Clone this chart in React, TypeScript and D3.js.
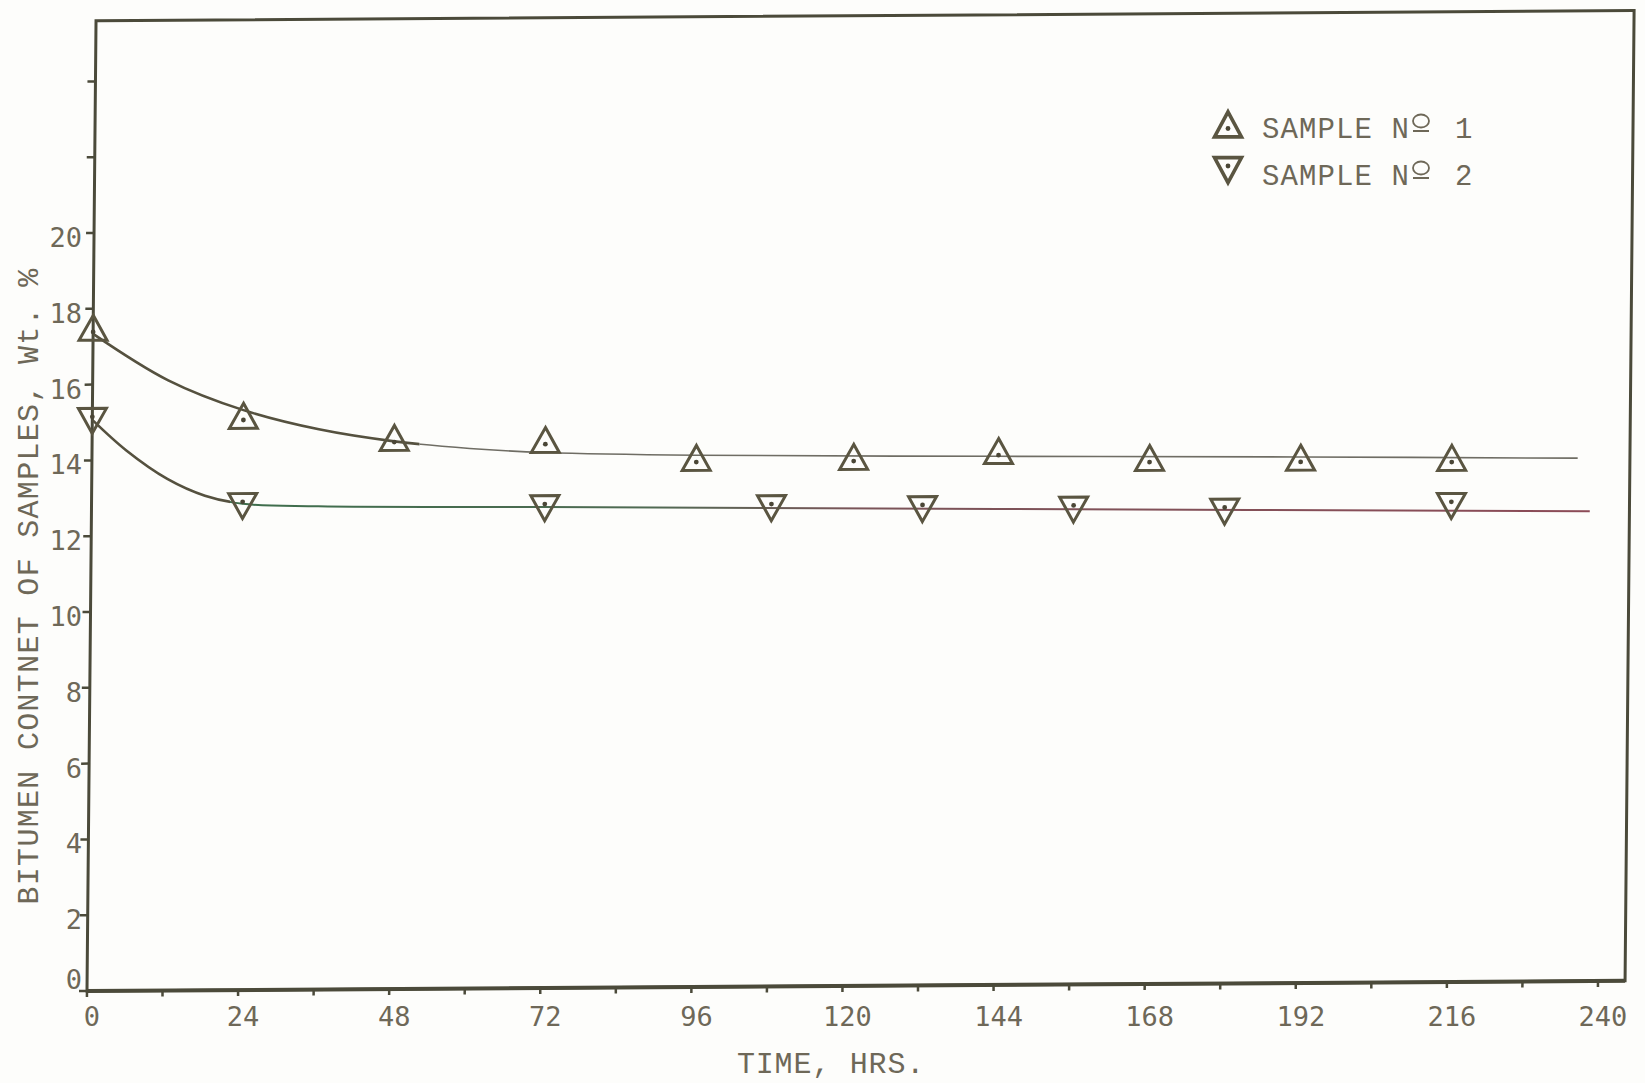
import React from 'react';
import * as d3 from 'd3';

// Canvas
const W = 1645;
const H = 1083;

// Axis ticks
const timeTicks = [0, 24, 48, 72, 96, 120, 144, 168, 192, 216, 240];
const timeMinorTicks = [12, 36, 60, 84, 108, 132, 156, 180, 204, 228];
const valueTicks = [0, 2, 4, 6, 8, 10, 12, 14, 16, 18, 20];
const valueUnlabeledTicks = [22, 24];

// Measured points (time in hours, bitumen content in wt.%)
const sample1Time = [0, 24, 48, 72, 96, 121, 144, 168, 192, 216];
const sample1Value = [17.39, 15.04, 14.43, 14.35, 13.85, 13.85, 13.98, 13.77, 13.75, 13.72];
const sample2Time = [0, 24, 72, 108, 132, 156, 180, 216];
const sample2Value = [15.15, 12.88, 12.77, 12.73, 12.68, 12.64, 12.56, 12.67];

// Hand-fitted curves through each sample
const curve1Time = [0, 12, 24, 36, 48, 60, 72, 96, 144, 192, 236];
const curve1Value = [17.34, 16.1, 15.3, 14.78, 14.45, 14.25, 14.13, 14.03, 13.95, 13.88, 13.8];
const curve2Time = [0, 5.5, 12, 18, 24, 36, 72, 144, 238];
const curve2Value = [15.07, 14.25, 13.5, 13.05, 12.83, 12.75, 12.69, 12.56, 12.4];

// Plot frame extent in data units
const FRAME_RIGHT = 244.3;
const FRAME_TOP = 25.6;

// Slight skew of the sheet
const SKEW_B = -0.0066;
const SKEW_C = -0.0093;

const INK = '#4b4a3a';
const TEXT = '#6e6858';
const MARK = '#5a5541';

const TRI_W = 28;
const TRI_H = 25;
const upTri = (w: number, h: number) =>
  `M0,${-(2 * h) / 3}L${w / 2},${h / 3}L${-w / 2},${h / 3}Z`;
const downTri = (w: number, h: number) =>
  `M0,${(2 * h) / 3}L${w / 2},${-h / 3}L${-w / 2},${-h / 3}Z`;

export default function App() {
  const x = d3.scaleLinear().domain([0, 240]).range([87, 1598]);
  const y = d3.scaleLinear().domain([0, 20]).range([991, 233]);

  const ox = x(0);
  const oy = y(0);
  const skew = `matrix(1, ${SKEW_B}, ${SKEW_C}, 1, ${-SKEW_C * oy}, ${-SKEW_B * ox})`;

  const line = d3
    .line<[number, number]>()
    .x((d) => x(d[0]))
    .y((d) => y(d[1]))
    .curve(d3.curveCatmullRom.alpha(0.5));

  const c1 = line(curve1Time.map((t, i) => [t, curve1Value[i]]) as [number, number][]) || '';
  const c2 = line(curve2Time.map((t, i) => [t, curve2Value[i]]) as [number, number][]) || '';

  const frame = `M${x(0)},${y(0)}L${x(FRAME_RIGHT)},${y(0)}L${x(FRAME_RIGHT)},${y(FRAME_TOP)}L${x(0)},${y(FRAME_TOP)}Z`;

  const tickFont = '"DejaVu Sans Mono", monospace';
  const typeFont = '"Liberation Mono", "Courier New", monospace';

  return (
    <svg
      width={W}
      height={H}
      viewBox={`0 0 ${W} ${H}`}
      style={{ position: 'absolute', left: 0, top: 0, background: '#fdfdfb' }}
    >
      <defs>
        <clipPath id="decay1">
          <rect x={0} y={0} width={x(52)} height={H} />
        </clipPath>
        <clipPath id="flat1">
          <rect x={x(52)} y={0} width={W} height={H} />
        </clipPath>
        <clipPath id="decay2">
          <rect x={0} y={0} width={x(22)} height={H} />
        </clipPath>
        <clipPath id="flat2">
          <rect x={x(22)} y={0} width={W} height={H} />
        </clipPath>
        <linearGradient id="pen2" gradientUnits="userSpaceOnUse" x1={x(24)} x2={x(240)} y1={0} y2={0}>
          <stop offset="0" stopColor="#3e6e4c" />
          <stop offset="0.3" stopColor="#4f6a52" />
          <stop offset="0.45" stopColor="#7a5458" />
          <stop offset="1" stopColor="#8c4b57" />
        </linearGradient>
      </defs>

      <rect x={0} y={0} width={W} height={H} fill="#fdfdfb" />

      <g transform={skew}>
        {/* frame */}
        <path d={frame} fill="none" stroke={INK} strokeWidth={3} />
        <line x1={x(0)} x2={x(FRAME_RIGHT)} y1={y(0)} y2={y(0)} stroke={INK} strokeWidth={4} />

        {/* time ticks */}
        {timeTicks.concat(timeMinorTicks).map((t) => (
          <line key={`xt${t}`} x1={x(t)} x2={x(t)} y1={y(0)} y2={y(0) + 6} stroke={INK} strokeWidth={2.5} />
        ))}

        {/* value ticks */}
        {valueTicks.concat(valueUnlabeledTicks).map((v) => (
          <line key={`yt${v}`} x1={x(0) - 8} x2={x(0)} y1={y(v)} y2={y(v)} stroke={INK} strokeWidth={2.5} />
        ))}

        {/* fitted curves */}
        <path d={c1} fill="none" stroke="#55513f" strokeWidth={2.6} clipPath="url(#decay1)" />
        <path d={c1} fill="none" stroke="#6f6d64" strokeWidth={1.6} clipPath="url(#flat1)" />
        <path d={c2} fill="none" stroke="#55513f" strokeWidth={2.6} clipPath="url(#decay2)" />
        <path d={c2} fill="none" stroke="url(#pen2)" strokeWidth={2} clipPath="url(#flat2)" />

        {/* sample 1 markers */}
        {sample1Time.map((t, i) => (
          <g key={`s1${t}`} transform={`translate(${x(t)},${y(sample1Value[i])})`}>
            <path d={upTri(TRI_W, TRI_H)} fill="none" stroke={MARK} strokeWidth={3} />
            <circle r={2.4} fill="#4a4636" />
          </g>
        ))}

        {/* sample 2 markers */}
        {sample2Time.map((t, i) => (
          <g key={`s2${t}`} transform={`translate(${x(t)},${y(sample2Value[i])})`}>
            <path d={downTri(TRI_W, TRI_H)} fill="none" stroke={MARK} strokeWidth={3} />
            <circle r={2.4} fill="#4a4636" />
          </g>
        ))}
      </g>

      {/* value tick labels */}
      {valueTicks.map((v) => (
        <text
          key={`yl${v}`}
          x={82}
          y={(v === 0 ? y(v) - 12 : y(v) + 4) + 10}
          textAnchor="end"
          fontFamily={tickFont}
          fontSize={27}
          fill={TEXT}
        >
          {v}
        </text>
      ))}

      {/* time tick labels */}
      {timeTicks.map((t) => (
        <text
          key={`xl${t}`}
          x={x(t) + 5}
          y={1026}
          textAnchor="middle"
          fontFamily={tickFont}
          fontSize={27}
          fill={TEXT}
        >
          {t}
        </text>
      ))}

      {/* axis titles */}
      <text
        x={831}
        y={1073}
        textAnchor="middle"
        fontFamily={typeFont}
        fontSize={30}
        letterSpacing={0.8}
        fill={TEXT}
      >
        TIME, HRS.
      </text>
      <text
        transform={`translate(38,586) rotate(-90)`}
        textAnchor="middle"
        fontFamily={typeFont}
        fontSize={30}
        letterSpacing={1.3}
        fill={TEXT}
      >
        BITUMEN CONTNET OF SAMPLES, Wt. %
      </text>

      {/* legend */}
      <g>
        <g transform="translate(1228,128.5)">
          <path d={upTri(27, 25)} fill="none" stroke={MARK} strokeWidth={3.6} />
          <circle r={2.4} fill="#4a4636" />
        </g>
        <text x={1262} y={138} fontFamily={typeFont} fontSize={29} letterSpacing={1.1} fill={TEXT}>
          SAMPLE N
        </text>
        <ellipse cx={1421} cy={121} rx={8} ry={6.5} fill="none" stroke={TEXT} strokeWidth={1.8} />
        <line x1={1413} x2={1429} y1={131} y2={131} stroke={TEXT} strokeWidth={2} />
        <text x={1455} y={138} fontFamily={typeFont} fontSize={29} fill={TEXT}>
          1
        </text>

        <g transform="translate(1228,166)">
          <path d={downTri(27, 25)} fill="none" stroke={MARK} strokeWidth={3.6} />
          <circle r={2.4} fill="#4a4636" />
        </g>
        <text x={1262} y={185} fontFamily={typeFont} fontSize={29} letterSpacing={1.1} fill={TEXT}>
          SAMPLE N
        </text>
        <ellipse cx={1421} cy={168} rx={8} ry={6.5} fill="none" stroke={TEXT} strokeWidth={1.8} />
        <line x1={1413} x2={1429} y1={178} y2={178} stroke={TEXT} strokeWidth={2} />
        <text x={1455} y={185} fontFamily={typeFont} fontSize={29} fill={TEXT}>
          2
        </text>
      </g>
    </svg>
  );
}
